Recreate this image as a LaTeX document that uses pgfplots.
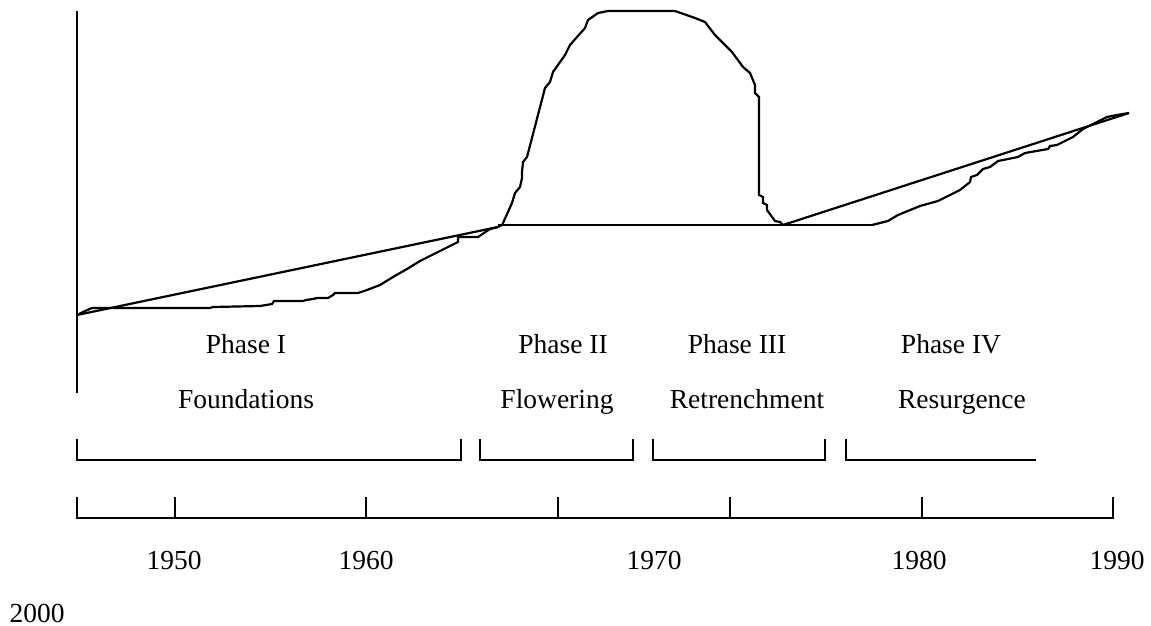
\documentclass[border=0pt]{standalone}
\usepackage{fontspec}
\setmainfont{Liberation Serif}
\usepackage{pgfplots}
\pgfplotsset{compat=1.18}
\tikzset{lbl/.style={anchor=base, font=\fontsize{13.75bp}{16bp}\selectfont, inner sep=0pt},
  ln/.style={black, solid, line width=1.1bp, mark=none}}
\begin{document}
\begin{tikzpicture}
\begin{axis}[
  scale only axis, width=575.5bp, height=313bp,
  xmin=0, xmax=1151, ymin=0, ymax=626, y dir=reverse,
  hide axis, clip=false
]
% invisible frame to fix the page size
\addplot[draw=none, mark=none] coordinates {(0,0) (1151,626)};
% vertical axis
\addplot[ln] coordinates {(77,11) (77,393)};
% left trend line
\addplot[ln] coordinates {(77,315) (498,227)};
% phase I curve
\addplot[ln] coordinates {
(77,315) (85,311) (92,308) (210,308) (213,307) (260,306) (272,304) (274,301)
(303,301) (306,300) (313,299) (317,298) (328,298) (333,295) (335,293) (358,293)
(367,290) (380,285) (393,277) (407,269) (420,261) (440,251) (458,242) (458,237)
(478,237) (490,229) (498,227) (502,225)};
% hump
\addplot[ln] coordinates {
(502,225) (503,223) (512,203) (515,193) (520,187) (522,178) (522,172) (523,162)
(527,157) (545,88) (550,82) (553,72) (565,55) (570,45) (577,37) (585,28) (588,20)
(598,13) (608,11) (675,11) (695,18) (705,22) (715,35) (732,52) (743,67) (750,73)
(755,85) (755,93) (759,97) (759,195) (763,197) (763,203) (767,205) (767,210)
(775,221) (780,222) (783,225)};
% base line
\addplot[ln] coordinates {(498,225) (872,225)};
% right trend line
\addplot[ln] coordinates {(783,225) (1129,113)};
% phase IV curve
\addplot[ln] coordinates {
(872,225) (888,221) (898,215) (920,206) (938,201) (960,190) (970,182) (971,177)
(977,175) (983,169) (990,167) (998,161) (1018,157) (1025,153) (1048,149) (1050,146)
(1057,145) (1073,137) (1083,129) (1097,122) (1107,117) (1117,115) (1129,113)};
% brackets
\addplot[ln] coordinates {(77,439) (77,460) (461,460) (461,439)};
\addplot[ln] coordinates {(480,439) (480,460) (633,460) (633,439)};
\addplot[ln] coordinates {(653,439) (653,460) (825,460) (825,439)};
\addplot[ln] coordinates {(846,439) (846,460) (1036,460)};
% timeline
\addplot[ln] coordinates {(77,497) (77,518) (1113,518) (1113,497)};
\addplot[ln] coordinates {(175,497) (175,518)};
\addplot[ln] coordinates {(366,497) (366,518)};
\addplot[ln] coordinates {(558,497) (558,518)};
\addplot[ln] coordinates {(730,497) (730,518)};
\addplot[ln] coordinates {(922,497) (922,518)};
% labels
\node[lbl] at (axis cs:246,353) {Phase I};
\node[lbl] at (axis cs:246,408) {Foundations};
\node[lbl] at (axis cs:563,353) {Phase II};
\node[lbl] at (axis cs:557,408) {Flowering};
\node[lbl] at (axis cs:737,353) {Phase III};
\node[lbl] at (axis cs:747,408) {Retrenchment};
\node[lbl] at (axis cs:951,353) {Phase IV};
\node[lbl] at (axis cs:962,408) {Resurgence};
\node[lbl] at (axis cs:174,569) {1950};
\node[lbl] at (axis cs:366,569) {1960};
\node[lbl] at (axis cs:654,569) {1970};
\node[lbl] at (axis cs:919,569) {1980};
\node[lbl] at (axis cs:1117,569) {1990};
\node[lbl] at (axis cs:37,622) {2000};
\end{axis}
\end{tikzpicture}
\end{document}
